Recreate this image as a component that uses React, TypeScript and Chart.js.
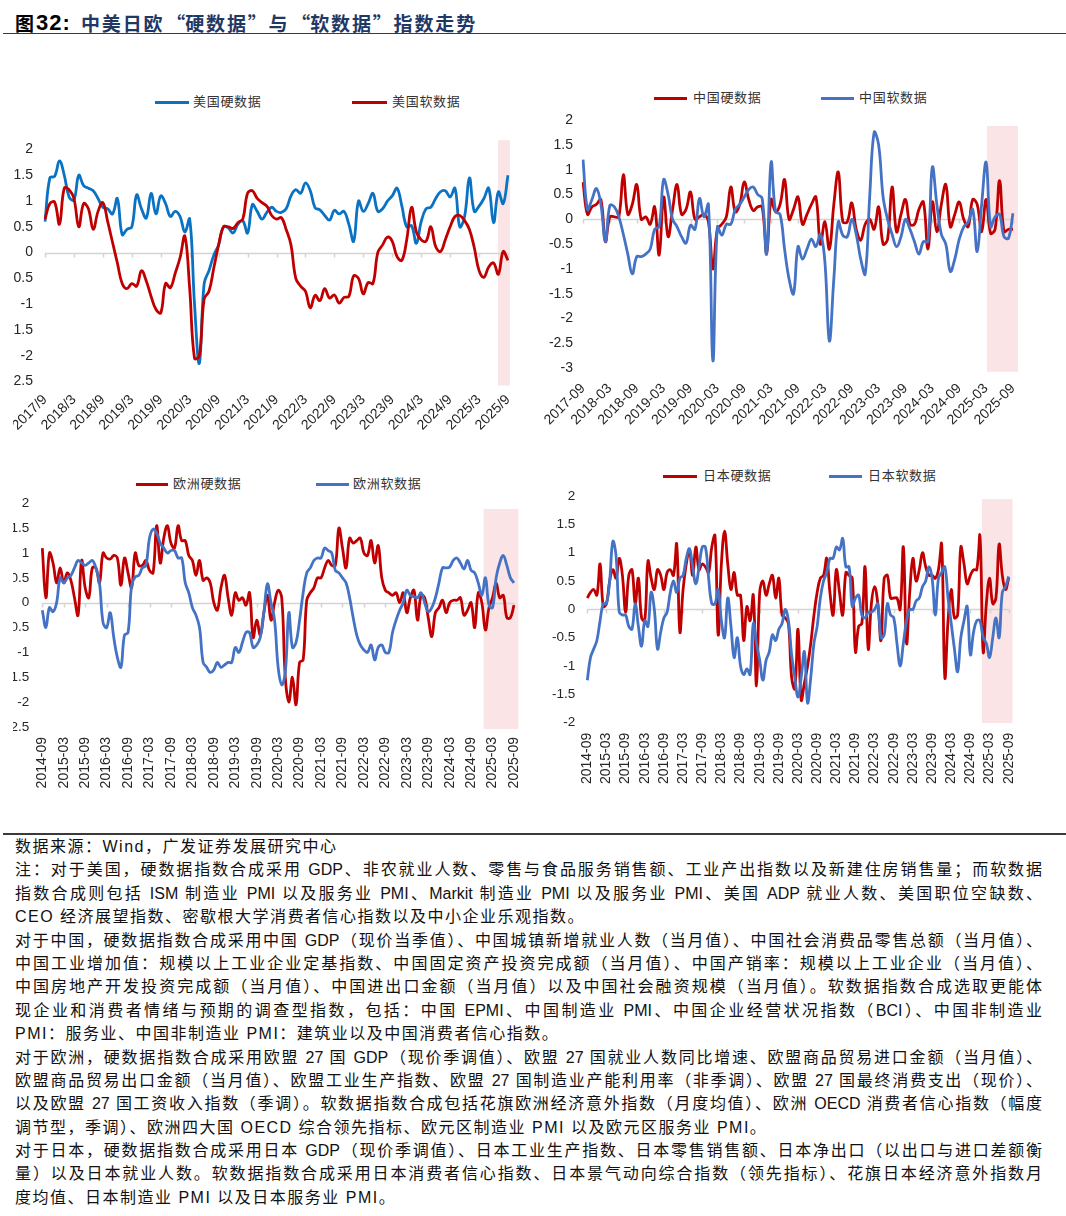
import React, { useEffect, useRef } from "react";
import { Chart, registerables } from "chart.js";

Chart.register(...registerables);

const LATIN = '"Liberation Sans", Arial, sans-serif';
const MIXED = '"Liberation Sans", "Noto Sans CJK SC", sans-serif';
const CJK = '"Noto Sans CJK SC", sans-serif';

// ---------- categories ----------
function monthLabels(y0: number, m0: number, n: number, sep: string, pad: boolean): string[] {
  const out: string[] = [];
  for (let k = 0; k < n; k++) {
    const t = m0 - 1 + k;
    const y = y0 + Math.floor(t / 12);
    const m = (t % 12) + 1;
    out.push(`${y}${sep}${pad && m < 10 ? "0" + m : m}`);
  }
  return out;
}
const usMonths = monthLabels(2017, 9, 97, "/", false);
const cnMonths = monthLabels(2017, 9, 97, "-", true);
const euMonths = monthLabels(2014, 9, 133, "-", true);
const jpMonths = monthLabels(2014, 9, 133, "-", true);

// ---------- series ----------
const usHard = [
  0.6, 1.45, 1.48, 1.78, 1.5, 1.08, 1.02, 1.5, 1.3, 1.25,
  1.2, 1.05, 0.88, 0.85, 0.75, 1.05, 0.35, 0.45, 0.5, 1.12,
  0.85, 0.67, 1.15, 0.75, 1.1, 0.95, 0.7, 0.8, 0.7, 0.4,
  0.65, -1.0, -2.15, -0.6, -0.35, -0.05, 0.15, 0.5, 0.48, 0.38,
  0.55, 0.62, 0.38, 0.93, 0.8, 0.65, 0.78, 0.88, 0.8, 0.78,
  0.85, 1.1, 1.22, 1.15, 1.35, 1.2, 0.87, 0.83, 0.72, 0.63,
  0.82, 0.75, 0.8, 0.55, 0.22, 1.0, 0.8, 0.95, 1.15, 0.8,
  0.85, 1.0, 1.1, 1.25, 0.9, 0.5, 0.52, 0.18, 0.6, 0.85,
  0.88, 1.05, 1.18, 1.2, 1.08, 1.25, 0.5, 0.7, 1.45, 0.8,
  0.9, 1.05, 1.25, 0.58, 1.18, 0.95, 1.5,
];
const usSoft = [
  0.65, 0.95, 0.98, 0.55, 1.25, 1.22, 1.05, 0.5, 0.95, 0.85,
  0.45, 0.8, 0.97, 0.6, 0.2, -0.2, -0.6, -0.7, -0.6, -0.65,
  -0.35, -0.55, -0.85, -1.1, -1.17, -0.6, -0.68, -0.4, -0.1, 0.32,
  -0.7, -2.05, -2.0, -0.9, -0.75, -0.3, 0.15, 0.5, 0.5, 0.47,
  0.58, 0.65, 1.15, 1.2, 1.05, 0.97, 0.9, 0.72, 0.65, 0.68,
  0.45, 0.15, -0.5, -0.65, -0.75, -1.07, -0.83, -0.93, -0.7, -0.88,
  -0.82, -0.98, -0.87, -0.85, -0.45, -0.5, -0.8, -0.58, -0.6, 0.0,
  0.15, 0.3, 0.22, -0.08, -0.15, 0.25, 0.88, 0.4, 0.25, 0.22,
  0.5, 0.12, 0.02, 0.25, 0.5, 0.7, 0.72, 0.62, 0.45, 0.1,
  -0.35, -0.48, -0.28, -0.2, -0.42, 0.02, -0.15,
];
const cnHard = [
  0.75, 0.1, 0.25, 0.3, 0.4, -0.45, 0.05, 0.05, 0.05, 0.9,
  0.1, 0.3, 0.7, 0.0, 0.05, -0.1, 0.25, -0.72, 0.45, -0.35,
  0.2, 0.7, 0.1, 0.2, 0.55, 0.0, 0.05, 0.1, -0.05, -1.0,
  -0.2, -0.1, 0.05, 0.65, 0.15, 0.3, 0.75, 0.4, 0.18, 0.25,
  0.25, -0.68, 0.4, 0.15, 0.3, 0.8, 0.0, 0.2, 0.45, -0.1,
  0.1, 0.3, 0.45, -0.5, -0.05, -0.6, 0.3, 0.95, -0.05, -0.05,
  0.33, -0.2, -0.42, -0.1, 0.0, -0.2, 0.25, -0.5, -0.4, 0.65,
  -0.25, 0.1, 0.4, -0.1, -0.1, 0.2, 0.35, -0.6, 0.35, -0.25,
  0.3, 0.7, -0.15, 0.1, 0.35, 0.0, -0.15, 0.4, 0.3, -0.25,
  0.4, -0.28, -0.2, 0.78, -0.25, -0.2, -0.2,
];
const cnSoft = [
  1.2, 0.2, 0.4, 0.62, 0.3, -0.45, 0.28, 0.25, 0.05, -0.3,
  -0.7, -1.1, -0.75, -0.75, -0.7, -0.6, -0.2, -0.15, 0.8, 0.5,
  0.0, -0.15, -0.35, -0.48, -0.12, -0.2, 0.42, 0.05, 0.3, -2.85,
  -0.15, -0.32, -0.1, -0.1, 0.2, 0.3, 0.45, 0.6, 0.65, 0.5,
  0.42, -0.7, 1.15, 0.15, 0.1, -0.6, -1.2, -1.5, -0.55, -0.8,
  -0.6, -0.4, -0.55, -0.3, -0.85, -2.45, -1.2, -0.05, -0.32, -0.35,
  0.0, -0.3, -0.8, -1.1, 0.45, 1.75, 1.5, 0.45, 0.0, -0.3,
  -0.55, -0.35, 0.0, -0.2, -0.45, -0.7, -0.45, -0.45, 1.05, 0.3,
  -0.3, -0.5, -1.05, -0.8, -0.4, -0.15, -0.05, 0.2, -0.65, 0.3,
  1.15, -0.15, 0.05, 0.1, -0.35, -0.38, 0.12,
];
const euHard = [
  1.1, 0.1, 1.0, 0.8, 0.4, 0.7, 0.4, 0.6, 0.45, 0.1,
  -0.25, 0.85, 0.3, 0.1, 0.7, 0.7, 0.4, 1.0, 0.9, 0.88,
  0.95, 0.9, 0.35, 0.9, 0.6, 0.3, 1.0, 0.75, 0.75, 0.85,
  0.65, 0.6, 1.55, 0.8, 1.3, 1.55, 1.2, 1.1, 1.55, 1.25,
  1.25, 0.95, 0.85, 0.55, 0.85, 0.45, 0.5, 0.4, 0.0, -0.15,
  0.3, 0.55, 0.1, -0.25, 0.2, 0.05, 0.1, -0.05, 0.2, -0.7,
  -0.35, -0.65, -0.2, 0.15, -0.35, 0.0, 0.25, 0.1, -1.5, -2.0,
  -1.5, -2.05, -1.2, -1.15, 0.05, 0.2, 0.3, 0.5, 0.5, 0.7,
  0.85, 0.75, 0.75, 1.5, 1.1, 0.7, 1.3, 1.2, 1.25, 1.3,
  1.0, 0.95, 1.25, 0.8, 1.15, 0.5, 0.25, 0.2, 0.15, 0.2,
  0.0, 0.2, -0.2, 0.1, 0.25, -0.35, 0.15, 0.1, -0.3, -0.68,
  -0.2, -0.1, 0.05, -0.2, 0.0, 0.05, 0.05, 0.1, -0.25, -0.15,
  0.0, -0.5, 0.2, 0.0, -0.55, -0.1, 0.1, 0.4, 0.1, 0.15,
  -0.3, -0.3, -0.05,
];
const euSoft = [
  -0.15, -0.5, -0.1, -0.18, 0.0, 0.5, 0.4, 0.5, 0.55, 0.7,
  0.85, 0.8, 0.75, 0.8, 0.85, 0.7, 0.4, -0.4, -0.5, -0.2,
  -0.7, -1.1, -1.3, -0.65, -0.6, 0.35, 0.52, 0.55, 0.7, 0.75,
  1.3, 1.48, 1.4, 1.2, 1.1, 1.0, 1.05, 1.05, 0.9, 0.9,
  0.4, 0.2, -0.1, -0.25, -0.5, -1.2, -1.3, -1.4, -1.35, -1.2,
  -1.3, -1.25, -1.2, -1.2, -0.9, -1.0, -0.8, -0.6, -0.6, -0.9,
  -0.85, -0.7, -0.2, 0.38, 0.0, -0.35, -1.3, -1.65, -1.4, -0.2,
  -0.9, -0.8, -0.35, 0.2, 0.6, 0.7, 0.85, 0.9, 0.9, 1.1,
  1.05, 1.0, 0.65, 0.6, 0.5, 0.4, 0.1, -0.3, -0.65, -0.85,
  -0.95, -1.0, -0.85, -1.15, -0.9, -0.85, -1.0, -1.0, -0.6, -0.35,
  -0.15, 0.0, 0.25, 0.15, 0.12, 0.1, 0.2, 0.0, -0.18, -0.1,
  0.1, 0.4, 0.7, 0.7, 0.72, 0.85, 0.9, 0.8, 0.68, 0.85,
  0.65, 0.6, 0.4, 0.15, 0.5, -0.05, -0.1, 0.5, 0.8, 0.95,
  0.75, 0.5, 0.4,
];
const jpHard = [
  0.2, 0.3, 0.35, 0.25, 0.8, 0.05, 0.1, 0.5, 0.7, 0.55,
  0.9, 0.6, -0.05, 0.6, 0.7, 0.1, 0.55, -0.15, -0.2, 0.85,
  0.55, 0.35, 0.7, 0.6, 0.35, 0.65, 0.7, 0.6, 1.15, -0.4,
  0.35, 0.8, 1.05, 0.6, 1.1, 0.7, 0.8, 0.75, 0.65, 1.1,
  1.3, -0.45, 0.8, 1.38, 0.8, 0.35, 0.65, 0.25, 0.25, -0.55,
  0.05, -0.2, 0.25, -1.35, 0.3, 0.5, 0.25, 0.45, 0.6, 0.2,
  0.55, -0.1, -0.15, -0.25, -1.2, -1.4, -0.35, -1.6, -1.3, -1.0,
  -0.6, -0.1, 0.3, 0.55, 0.6, 0.9, 0.3, -0.1, 0.7, 0.3,
  -0.1, 0.65, 0.6, 0.55, -0.75, -0.3, -0.25, 0.75, -0.7, 0.1,
  0.4, 0.1, -0.55, 0.55, 0.6, 0.2, 0.2, 0.2, 0.0, 1.1,
  -0.6, 0.3, 0.9, 0.5, 0.7, 1.0, 0.75, 0.6, 0.6, 0.55,
  0.7, 1.15, -1.2, -0.2, 0.35, -0.15, -0.1, 1.1, 0.8, 0.45,
  0.6, 0.7, 0.7, 1.3, -0.75, 0.1, 0.55, 0.1, 0.2, 1.15,
  0.6, 0.35, 0.55,
];
const jpSoft = [
  -1.25, -0.85, -0.7, -0.55, -0.2, 0.1, 0.1, 0.5, 1.2, 0.95,
  -0.05, -0.1, -0.1, -0.3, -0.35, 0.1, -0.3, -0.65, -0.2, -0.3,
  0.3, 0.0, -0.7, -0.4, -0.15, -0.05, 0.3, 0.5, 0.3, 0.55,
  0.6, 0.9, 1.07, 0.75, 0.45, 0.75, 1.1, 1.1, 0.55, 0.1,
  0.1, 0.35, -0.2, -0.5, 0.2, -0.3, -0.85, -0.5, -1.0, -1.15,
  -1.05, -1.15, -0.25, -0.6, -0.9, -1.25, -0.9, -0.75, -0.45, -0.55,
  -0.35, -0.25, 0.0, -0.2, -0.8, -1.2, -1.55, -1.2, -0.75, -1.65,
  -1.2, -0.6, -0.3, 0.2, 0.5, 0.65, 0.9, 0.9, 1.1, 1.05,
  1.25, 0.75, 0.75, 0.05, 0.2, 0.25, -0.1, -0.15, -0.05, -0.05,
  0.0, 0.1, -0.5, -0.45, 0.1, -0.1, -0.15, -0.6, -1.0, -0.6,
  -0.2, 0.0, 0.0, 0.15, 0.2, 0.4, 0.5, 0.75, 0.55, -0.1,
  0.55, 0.65, 0.75, 0.2, -0.25, -0.7, -1.1, -0.5, -0.2, 0.05,
  -0.8, -0.4, -0.2, -0.2, -0.5, -0.6, -0.85, -0.5, -0.15, -0.5,
  0.3, 0.4, 0.58,
];

// ---------- names, axis ranges, highlighted period (month index from..to, value top..bottom) ----------
const usNames = ["美国硬数据", "美国软数据"];
const cnNames = ["中国硬数据", "中国软数据"];
const euNames = ["欧洲硬数据", "欧洲软数据"];
const jpNames = ["日本硬数据", "日本软数据"];
const usYRange = [-2.5, 2];
const cnYRange = [-3, 2];
const euYRange = [-2.5, 2];
const jpYRange = [-2, 2];
const usShade = [93.9, 96.4, 2.18, -2.58];
const cnShade = [90.2, 97.1, 1.88, -3.07];
const euShade = [123.5, 133.2, 1.885, -2.54];
const jpShade = [123.6, 133.2, 1.945, -2.005];

const RED = "#C00000";
const BLUE_US = "#0A72C2";
const BLUE = "#4472C4";
const SHADE = "#FBE4E5";

const decorPlugin = {
  id: "decor",
  beforeDatasetsDraw(chart: any, _args: any, opts: any) {
    const { ctx, chartArea, scales } = chart;
    const x = scales.x;
    const y = scales.y;
    const [a, b, t, bt] = opts.shade;
    ctx.save();
    ctx.fillStyle = SHADE;
    const x1 = x.getPixelForValue(a);
    const x2 = x.getPixelForValue(b);
    const y1 = y.getPixelForValue(t);
    const y2 = y.getPixelForValue(bt);
    ctx.fillRect(x1, y1, x2 - x1, y2 - y1);
    const y0 = Math.round(y.getPixelForValue(0)) + 0.5;
    ctx.strokeStyle = "#D4D4D4";
    ctx.lineWidth = 1.5;
    ctx.beginPath();
    ctx.moveTo(chartArea.left, y0);
    ctx.lineTo(chartArea.right, y0);
    const n = chart.data.labels.length;
    for (let i = 0; i < n; i += 6) {
      const xx = Math.round(x.getPixelForValue(i)) + 0.5;
      ctx.moveTo(xx, y0);
      ctx.lineTo(xx, y0 + 4);
    }
    ctx.stroke();
    ctx.restore();
  },
};

type Spec = {
  labels: string[];
  series: { data: number[]; color: string }[];
  yRange: number[];
  shade: number[];
  left: number; top: number; w: number; h: number; clipLeft: number;
  yWidth: number; padTop: number; padRight: number; xHeight: number;
  yPad: number; xPad: number; rot: number; yFont: number;
};

function makeConfig(p: Spec): any {
  return {
    type: "line",
    data: {
      labels: p.labels,
      datasets: p.series.map((s, i) => ({
        data: s.data,
        borderColor: s.color,
        backgroundColor: s.color,
        borderWidth: 2.8,
        pointRadius: 0,
        pointHoverRadius: 0,
        tension: 0.4,
        fill: false,
        order: p.series.length - i,
      })),
    },
    options: {
      responsive: false,
      animation: false,
      devicePixelRatio: 1,
      events: [],
      layout: { padding: { top: p.padTop, right: p.padRight, bottom: 0, left: 0 } },
      plugins: {
        legend: { display: false },
        tooltip: { enabled: false },
        decor: { shade: p.shade },
      },
      scales: {
        x: {
          type: "category",
          offset: false,
          grid: { display: false, drawTicks: false },
          border: { display: false },
          ticks: {
            autoSkip: false,
            minRotation: p.rot,
            maxRotation: p.rot,
            padding: p.xPad,
            color: "#262626",
            font: { size: 14, family: LATIN },
            callback: function (this: any, v: any, i: number) {
              return i % 6 === 0 ? this.getLabelForValue(v) : null;
            },
          },
          afterFit: (s: any) => {
            s.height = p.xHeight;
            s.paddingLeft = 0;
            s.paddingRight = 0;
          },
        },
        y: {
          min: p.yRange[0],
          max: p.yRange[1],
          grid: { display: false, drawTicks: false },
          border: { display: false },
          ticks: {
            stepSize: 0.5,
            includeBounds: false,
            padding: p.yPad,
            color: "#262626",
            font: { size: p.yFont, family: LATIN },
            callback: (v: any) => String(Math.round(Number(v) * 100) / 100),
          },
          afterFit: (s: any) => {
            s.width = p.yWidth;
            s.paddingTop = 0;
            s.paddingBottom = 0;
          },
        },
      },
    },
    plugins: [decorPlugin],
  };
}

function Panel({ p }: { p: Spec }) {
  const ref = useRef<HTMLCanvasElement>(null);
  useEffect(() => {
    const chart = new Chart(ref.current as HTMLCanvasElement, makeConfig(p));
    return () => chart.destroy();
  }, []);
  return (
    <div style={{ position: "absolute", left: p.clipLeft, top: p.top, width: p.left + p.w - p.clipLeft, height: p.h, overflow: "hidden" }}>
      <canvas ref={ref} width={p.w} height={p.h} style={{ position: "absolute", left: p.left - p.clipLeft, top: 0, width: p.w, height: p.h }} />
    </div>
  );
}

function Legend({ items, y }: { items: { name: string; color: string; x1: number; x2: number; tx: number }[]; y: number }) {
  return (
    <>
      {items.map((it) => (
        <React.Fragment key={it.name}>
          <div style={{ position: "absolute", left: it.x1, top: y - 1.5, width: it.x2 - it.x1, height: 3, background: it.color }} />
          <div style={{ position: "absolute", left: it.tx, top: y - 10, height: 20, lineHeight: "20px", fontSize: 13, letterSpacing: 0.7, color: "#333", fontFamily: MIXED, whiteSpace: "nowrap" }}>{it.name}</div>
        </React.Fragment>
      ))}
    </>
  );
}

const usSpec: Spec = {
  labels: usMonths,
  series: [{ data: usHard, color: BLUE_US }, { data: usSoft, color: RED }],
  yRange: usYRange, shade: usShade,
  left: 0, top: 80, w: 533, h: 360, clipLeft: 13,
  yWidth: 45, padTop: 69.5, padRight: 25, xHeight: 58.5, yPad: 12, xPad: 10, rot: 45, yFont: 14,
};
const cnSpec: Spec = {
  labels: cnMonths,
  series: [{ data: cnHard, color: RED }, { data: cnSoft, color: BLUE }],
  yRange: cnYRange, shade: cnShade,
  left: 530, top: 80, w: 536, h: 360, clipLeft: 530,
  yWidth: 53, padTop: 40, padRight: 53, xHeight: 71.7, yPad: 10, xPad: 12, rot: 45, yFont: 14,
};
const euSpec: Spec = {
  labels: euMonths,
  series: [{ data: euHard, color: RED }, { data: euSoft, color: BLUE }],
  yRange: euYRange, shade: euShade,
  left: 0, top: 460, w: 530, h: 340, clipLeft: 13,
  yWidth: 42.3, padTop: 43.3, padRight: 16, xHeight: 73, yPad: 13, xPad: 10, rot: 90, yFont: 13.5,
};
const jpSpec: Spec = {
  labels: jpMonths,
  series: [{ data: jpHard, color: RED }, { data: jpSoft, color: BLUE }],
  yRange: jpYRange, shade: jpShade,
  left: 530, top: 460, w: 536, h: 340, clipLeft: 530,
  yWidth: 57.3, padTop: 36, padRight: 57.3, xHeight: 77.3, yPad: 12, xPad: 10, rot: 90, yFont: 13.5,
};

const titleParts = ["中美日欧", "“", "硬数据", "”", "与", "“", "软数据", "”", "指数走势"];

const noteLines: { t: string; j: boolean }[] = [
  { t: "数据来源：Wind，广发证券发展研究中心", j: false },
  { t: "注：对于美国，硬数据指数合成采用 GDP、非农就业人数、零售与食品服务销售额、工业产出指数以及新建住房销售量；而软数据", j: true },
  { t: "指数合成则包括 ISM 制造业 PMI 以及服务业 PMI、Markit 制造业 PMI 以及服务业 PMI、美国 ADP 就业人数、美国职位空缺数、", j: true },
  { t: "CEO 经济展望指数、密歇根大学消费者信心指数以及中小企业乐观指数。", j: false },
  { t: "对于中国，硬数据指数合成采用中国 GDP（现价当季值）、中国城镇新增就业人数（当月值）、中国社会消费品零售总额（当月值）、", j: true },
  { t: "中国工业增加值：规模以上工业企业定基指数、中国固定资产投资完成额（当月值）、中国产销率：规模以上工业企业（当月值）、", j: true },
  { t: "中国房地产开发投资完成额（当月值）、中国进出口金额（当月值）以及中国社会融资规模（当月值）。软数据指数合成选取更能体", j: true },
  { t: "现企业和消费者情绪与预期的调查型指数，包括：中国 EPMI、中国制造业 PMI、中国企业经营状况指数（BCI）、中国非制造业", j: true },
  { t: "PMI：服务业、中国非制造业 PMI：建筑业以及中国消费者信心指数。", j: false },
  { t: "对于欧洲，硬数据指数合成采用欧盟 27 国 GDP（现价季调值）、欧盟 27 国就业人数同比增速、欧盟商品贸易进口金额（当月值）、", j: true },
  { t: "欧盟商品贸易出口金额（当月值）、欧盟工业生产指数、欧盟 27 国制造业产能利用率（非季调）、欧盟 27 国最终消费支出（现价）、", j: true },
  { t: "以及欧盟 27 国工资收入指数（季调）。软数据指数合成包括花旗欧洲经济意外指数（月度均值）、欧洲 OECD 消费者信心指数（幅度", j: true },
  { t: "调节型，季调）、欧洲四大国 OECD 综合领先指标、欧元区制造业 PMI 以及欧元区服务业 PMI。", j: false },
  { t: "对于日本，硬数据指数合成采用日本 GDP（现价季调值）、日本工业生产指数、日本零售销售额、日本净出口（以出口与进口差额衡", j: true },
  { t: "量）以及日本就业人数。软数据指数合成采用日本消费者信心指数、日本景气动向综合指数（领先指标）、花旗日本经济意外指数月", j: true },
  { t: "度均值、日本制造业 PMI 以及日本服务业 PMI。", j: false },
];

export default function App() {
  return (
    <div style={{ position: "absolute", left: 0, top: 0, width: 1066, height: 1216, background: "#fff", overflow: "hidden" }}>
      <div style={{ position: "absolute", left: 15, top: 9, height: 27, lineHeight: "27px", fontSize: 19, fontWeight: "bold", fontFamily: CJK, color: "#000" }}>图</div>
      <div style={{ position: "absolute", left: 36, top: 9, height: 27, lineHeight: "27px", fontSize: 22, fontWeight: "bold", fontFamily: LATIN, color: "#000", letterSpacing: 1 }}>32:</div>
      <div style={{ position: "absolute", left: 81, top: 9, height: 27, lineHeight: "27px", fontSize: 19, fontWeight: "bold", fontFamily: CJK, color: "#1F3864", letterSpacing: 1.85, whiteSpace: "nowrap" }}>
        {titleParts.map((s, i) =>
          s === "“" || s === "”" ? (
            <span key={i} style={{ display: "inline-block", width: 20.8, textAlign: s === "“" ? "right" : "left", letterSpacing: 0 }}>{s}</span>
          ) : (
            <span key={i}>{s}</span>
          )
        )}
      </div>
      <div style={{ position: "absolute", left: 3, top: 32.5, width: 1063, height: 1.5, background: "#3a3a3a" }} />

      <Legend y={102} items={[
        { name: usNames[0], color: BLUE_US, x1: 155, x2: 189, tx: 193 },
        { name: usNames[1], color: RED, x1: 352, x2: 387, tx: 392 },
      ]} />
      <Legend y={98.3} items={[
        { name: cnNames[0], color: RED, x1: 654, x2: 687, tx: 693 },
        { name: cnNames[1], color: BLUE, x1: 821, x2: 854, tx: 859 },
      ]} />
      <Legend y={484} items={[
        { name: euNames[0], color: RED, x1: 136, x2: 168, tx: 173 },
        { name: euNames[1], color: BLUE, x1: 316, x2: 349, tx: 353 },
      ]} />
      <Legend y={476} items={[
        { name: jpNames[0], color: RED, x1: 663, x2: 697, tx: 703 },
        { name: jpNames[1], color: BLUE, x1: 829, x2: 862, tx: 868 },
      ]} />

      <Panel p={usSpec} />
      <Panel p={cnSpec} />
      <Panel p={euSpec} />
      <Panel p={jpSpec} />

      <div style={{ position: "absolute", left: 3, top: 833.3, width: 1063, height: 1.3, background: "#3a3a3a" }} />
      <div style={{ position: "absolute", left: 15, top: 835, width: 1027, fontFamily: MIXED, fontSize: 16, color: "#111", lineHeight: "23.4px" }}>
        {noteLines.map((l, i) => (
          <div key={i} style={{ height: 23.4, textAlign: l.j ? "justify" : "left", textAlignLast: l.j ? "justify" : "left", letterSpacing: l.j ? 0 : 1.5, whiteSpace: l.j ? "normal" : "nowrap" } as any}>{l.t}</div>
        ))}
      </div>
    </div>
  );
}
